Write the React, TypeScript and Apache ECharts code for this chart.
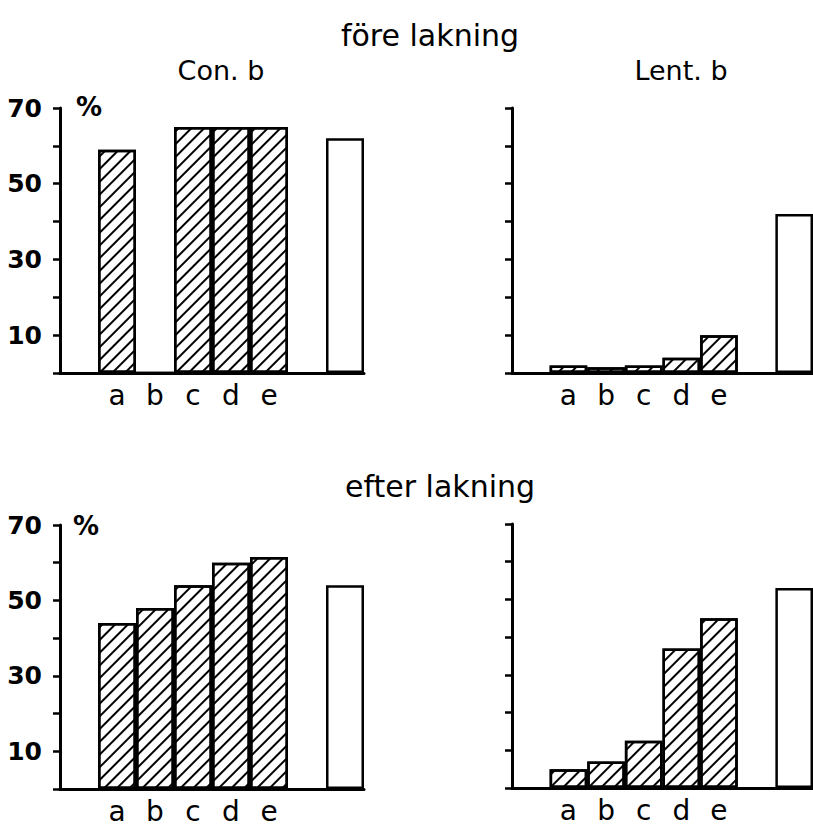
import React, { useEffect, useRef } from "react";
import * as echarts from "echarts";

// category slots: leading gap, a–e, gap, open (total) bar
const slotKeys = ["s0", "a", "b", "c", "d", "e", "s6", "total"];
const slotLabels = ["", "a", "b", "c", "d", "e", "", ""];
const yLabelValues = [10, 30, 50, 70];

const headings = ["före lakning", "efter lakning"];
const panelTitles = ["Con. b", "Lent. b"];
const unitLabel = "%";

// före lakning
const beforeCon = [59, 0, 65, 65, 65];
const beforeConTotal = 62;
const beforeLent = [2, 1.5, 2, 4, 10];
const beforeLentTotal = 42;
// efter lakning
const afterCon = [44, 48, 54, 60, 61.5];
const afterConTotal = 54;
const afterLent = [5, 7, 12.5, 37, 45];
const afterLentTotal = 53;

const FONT = "DejaVu Sans";

export default function App() {
  const ref = useRef<HTMLDivElement>(null);
  useEffect(() => {
    if (!ref.current) return;
    const chart = echarts.init(ref.current, null, { renderer: "svg" });

    const grids = [
      { left: 60, top: 108, width: 304, height: 265 },
      { left: 512, top: 108, width: 304, height: 265 },
      { left: 60, top: 525, width: 304, height: 264 },
      { left: 512, top: 524, width: 304, height: 264 },
    ];
    const panels = [
      { vals: beforeCon, total: beforeConTotal, labels: true },
      { vals: beforeLent, total: beforeLentTotal, labels: false },
      { vals: afterCon, total: afterConTotal, labels: true },
      { vals: afterLent, total: afterLentTotal, labels: false },
    ];

    const decal = {
      symbol: "rect",
      symbolSize: 1,
      color: "#000",
      backgroundColor: "#fff",
      dashArrayX: [1, 0],
      dashArrayY: [2, 7],
      rotation: -Math.PI / 4,
    };

    const xAxis = grids.map((_, i) => ({
      type: "category",
      gridIndex: i,
      data: slotKeys,
      axisLine: { lineStyle: { color: "#000", width: 3 } },
      axisTick: { show: false },
      axisLabel: {
        color: "#000",
        fontFamily: FONT,
        fontSize: 28,
        margin: 8,
        interval: 0,
        formatter: (_v: string, idx: number) => slotLabels[idx],
      },
    }));

    const yAxis = grids.map((_, i) => ({
      type: "value",
      gridIndex: i,
      min: 0,
      max: 70,
      interval: 10,
      splitLine: { show: false },
      axisLine: { show: true, lineStyle: { color: "#000", width: 3 } },
      axisTick: { show: true, inside: false, length: 7, lineStyle: { color: "#000", width: 2.5 } },
      axisLabel: {
        show: panels[i].labels,
        color: "#000",
        fontFamily: FONT,
        fontSize: 25,
        fontWeight: "bold",
        margin: 18,
        formatter: (v: number) => (yLabelValues.indexOf(v) >= 0 ? String(v) : ""),
      },
    }));

    const series: any[] = [];
    panels.forEach((p, i) => {
      series.push({
        type: "bar",
        xAxisIndex: i,
        yAxisIndex: i,
        data: [null, ...p.vals, null, null],
        barCategoryGap: "0%",
        barGap: "-100%",
        itemStyle: { color: "#fff", borderColor: "#000", borderWidth: 2.5, decal },
      });
      series.push({
        type: "bar",
        xAxisIndex: i,
        yAxisIndex: i,
        data: [null, null, null, null, null, null, null, p.total],
        barCategoryGap: "0%",
        barGap: "-100%",
        itemStyle: { color: "#fff", borderColor: "#000", borderWidth: 2.5 },
      });
    });

    const txt = (x: number, y: number, text: string, size: number, weight = "normal") => ({
      type: "text",
      x,
      y,
      style: {
        text,
        fill: "#000",
        font: `${weight} ${size}px "${FONT}"`,
        textAlign: "center",
        textVerticalAlign: "middle",
      },
    });

    chart.setOption({
      animation: false,
      backgroundColor: "#fff",
      grid: grids,
      xAxis,
      yAxis,
      series,
      graphic: [
        txt(430, 35, headings[0], 30),
        txt(221, 70, panelTitles[0], 27),
        txt(681, 70, panelTitles[1], 27),
        txt(440, 486, headings[1], 30),
        txt(89, 107, unitLabel, 26, "bold"),
        txt(86, 526, unitLabel, 26, "bold"),
      ],
    });
    return () => chart.dispose();
  }, []);
  return (
    <div
      ref={ref}
      style={{ position: "absolute", left: 0, top: 0, width: 813, height: 830 }}
    />
  );
}
